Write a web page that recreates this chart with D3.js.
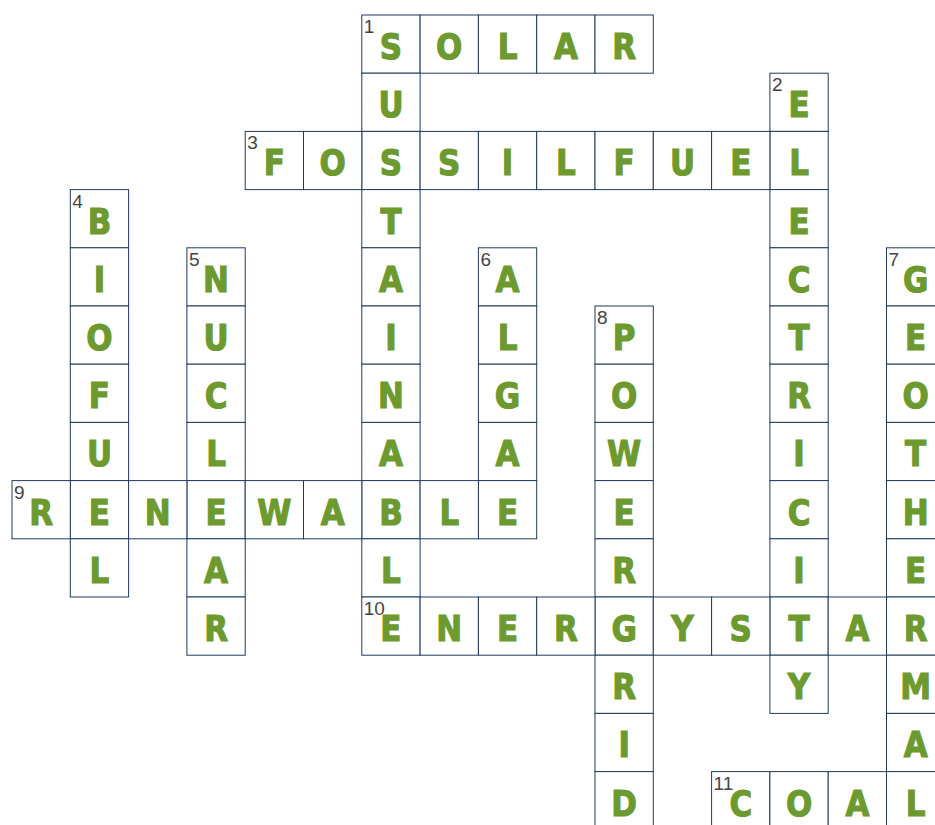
<!DOCTYPE html>
<html>
<head>
<meta charset="utf-8">
<script src="https://cdn.jsdelivr.net/npm/d3@7"></script>
<style>
  body { margin: 0; background: #fff; }
  svg { display: block; }
</style>
</head>
<body>
<div id="container"></div>
<script>
/* CONSTANTS AND GLOBALS */
const width = 935;
const height = 825;
const cell = 58.3;

/* DATA */
const clueNumbers = [1, 1, 2, 3, 4, 5, 6, 7, 8, 9, 10, 11];
const answers = ["SOLAR", "SUSTAINABLE", "ELECTRICITY", "FOSSILFUEL", "BIOFUEL", "NUCLEAR",
                 "ALGAE", "GEOTHERMAL", "POWERGRID", "RENEWABLE", "ENERGYSTAR", "COAL"];
const directions = ["across", "down", "down", "across", "down", "down",
                    "down", "down", "down", "across", "across", "across"];
const startRows = [0, 0, 1, 2, 3, 4, 4, 4, 5, 8, 10, 13];
const startCols = [6, 6, 13, 4, 1, 3, 8, 15, 10, 0, 6, 12];

// build the list of cells
const cellMap = new Map();
answers.forEach((word, i) => {
  word.split("").forEach((ch, k) => {
    const r = startRows[i] + (directions[i] === "down" ? k : 0);
    const c = startCols[i] + (directions[i] === "across" ? k : 0);
    const key = r + "_" + c;
    if (!cellMap.has(key)) cellMap.set(key, { row: r, col: c, letter: ch, num: null });
    if (k === 0) cellMap.get(key).num = clueNumbers[i];
  });
});
const cells = Array.from(cellMap.values());

/* SCALES */
const xScale = d3.scaleLinear()
  .domain([0, 16])
  .range([12, 12 + cell * 16]);

const yScale = d3.scaleLinear()
  .domain([0, 14])
  .range([15, 15 + 58.2 * 14]);

const cw = xScale(1) - xScale(0);
const ch = yScale(1) - yScale(0);

/* SVG */
const svg = d3.select("#container")
  .append("svg")
  .attr("width", width)
  .attr("height", height);

const g = svg.selectAll("g.cell")
  .data(cells)
  .join("g")
  .attr("class", "cell")
  .attr("transform", d => `translate(${xScale(d.col)},${yScale(d.row)})`);

g.append("rect")
  .attr("width", cw)
  .attr("height", ch)
  .attr("fill", "#fff")
  .attr("stroke", "#1f3a5f")
  .attr("stroke-width", 1);

// letters, slightly condensed and heavy
g.append("text")
  .attr("transform", `translate(${cw / 2},44) scale(0.86,1)`)
  .attr("text-anchor", "middle")
  .attr("fill", "#6c9a2e")
  .attr("stroke", "#6c9a2e")
  .attr("stroke-width", 1.2)
  .style("font-family", "'DejaVu Sans', sans-serif")
  .style("font-weight", "bold")
  .style("font-size", "36px")
  .text(d => d.letter);

g.filter(d => d.num !== null)
  .append("text")
  .attr("x", 2)
  .attr("y", 18)
  .attr("fill", "#444")
  .style("font-family", "'Liberation Sans', Arial, sans-serif")
  .style("font-size", "19px")
  .text(d => d.num);
</script>
</body>
</html>
